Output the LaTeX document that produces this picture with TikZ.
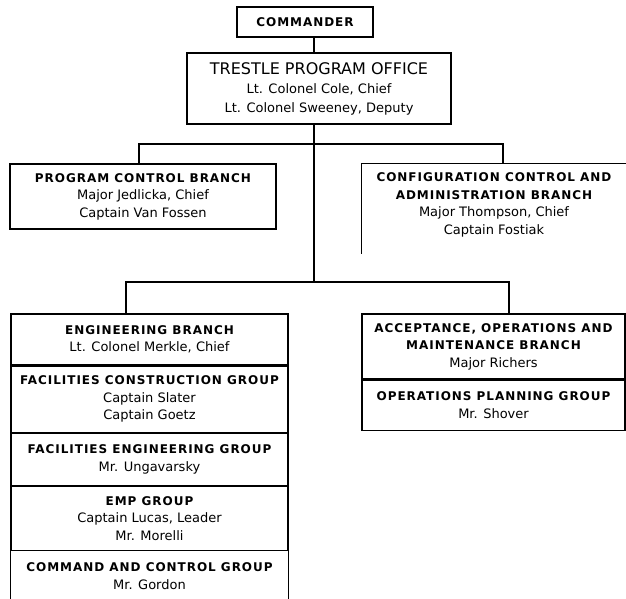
\documentclass[tikz,border=0pt]{standalone}
\usepackage{fontspec}
\setmainfont{DejaVu Sans}
\newfontfamily\hdfont[LetterSpace=8]{DejaVu Sans Bold}
\newcommand{\hd}[1]{{\hdfont\fontsize{12}{17.5}\selectfont #1}}
\usetikzlibrary{positioning}
\begin{document}
\begin{tikzpicture}[x=1pt,y=-1pt,
    box/.style={draw,line width=1.1pt,align=center,inner sep=0pt,font=\fontsize{13}{17.5}\selectfont},
    open/.style={box,draw=none},
    wire/.style={line width=1.6pt}]
  \useasboundingbox[fill=white] (0,0) rectangle (626,599);
  \node[box,minimum width=136pt,minimum height=30pt] (cmd) at (305,22) {\hd{COMMANDER}};
  \node[box,minimum width=264pt,minimum height=71pt,font=\fontsize{13}{19}\selectfont] (tpo) at (319,88.5)
    {{\fontsize{16}{19}\selectfont TRESTLE PROGRAM OFFICE}\\Lt. Colonel Cole, Chief\\Lt. Colonel Sweeney, Deputy};
  \node[box,minimum width=266pt,minimum height=65pt] (pcb) at (143,196.5)
    {\hd{PROGRAM CONTROL BRANCH}\\Major Jedlicka, Chief\\Captain Van Fossen};
  \node[open,minimum width=264pt,minimum height=82pt] (cca) at (494,205)
    {\hd{CONFIGURATION CONTROL AND}\\\hd{ADMINISTRATION BRANCH}\\Major Thompson, Chief\\Captain Fostiak};
  % engineering stack
  \node[box,minimum width=277pt,minimum height=51pt] (eng) at (149.5,339.5)
    {\hd{ENGINEERING BRANCH}\\Lt. Colonel Merkle, Chief};
  \node[box,minimum width=277pt,minimum height=66pt,below=0pt of eng] (fcg)
    {\hd{FACILITIES CONSTRUCTION GROUP}\\Captain Slater\\Captain Goetz};
  \node[box,minimum width=277pt,minimum height=52pt,below=0pt of fcg] (feg)
    {\hd{FACILITIES ENGINEERING GROUP}\\Mr. Ungavarsky};
  \node[box,minimum width=277pt,minimum height=64pt,below=0pt of feg] (emp)
    {\hd{EMP GROUP}\\Captain Lucas, Leader\\Mr. Morelli};
  \node[open,minimum width=277pt,minimum height=49pt,below=0pt of emp] (ccg)
    {\hd{COMMAND AND CONTROL GROUP}\\Mr. Gordon};
  % acceptance stack
  \node[box,minimum width=263pt,minimum height=65pt] (aom) at (493.5,346.5)
    {\hd{ACCEPTANCE, OPERATIONS AND}\\\hd{MAINTENANCE BRANCH}\\Major Richers};
  \node[box,minimum width=263pt,minimum height=50pt,below=0pt of aom] (opg)
    {\hd{OPERATIONS PLANNING GROUP}\\Mr. Shover};
  \draw[box] (cca.north east) -- (cca.north west) -- ++(0,91);
  \draw[box] (ccg.north west) -- ++(0,60) (ccg.north east) -- ++(0,60);
  \coordinate (bar1) at (314,144);
  \coordinate (bar2) at (314,282);
  \draw[wire] (bar1 |- cmd.south) -- (bar1 |- tpo.north);
  \draw[wire] (bar1 |- tpo.south) -- (bar2);
  \draw[wire] ([xshift=-4pt]pcb.north) |- (bar1) -| ([xshift=9pt]cca.north);
  \draw[wire] ([xshift=-23.5pt]eng.north) |- (bar2) -| ([xshift=15.5pt]aom.north);
\end{tikzpicture}
\end{document}
